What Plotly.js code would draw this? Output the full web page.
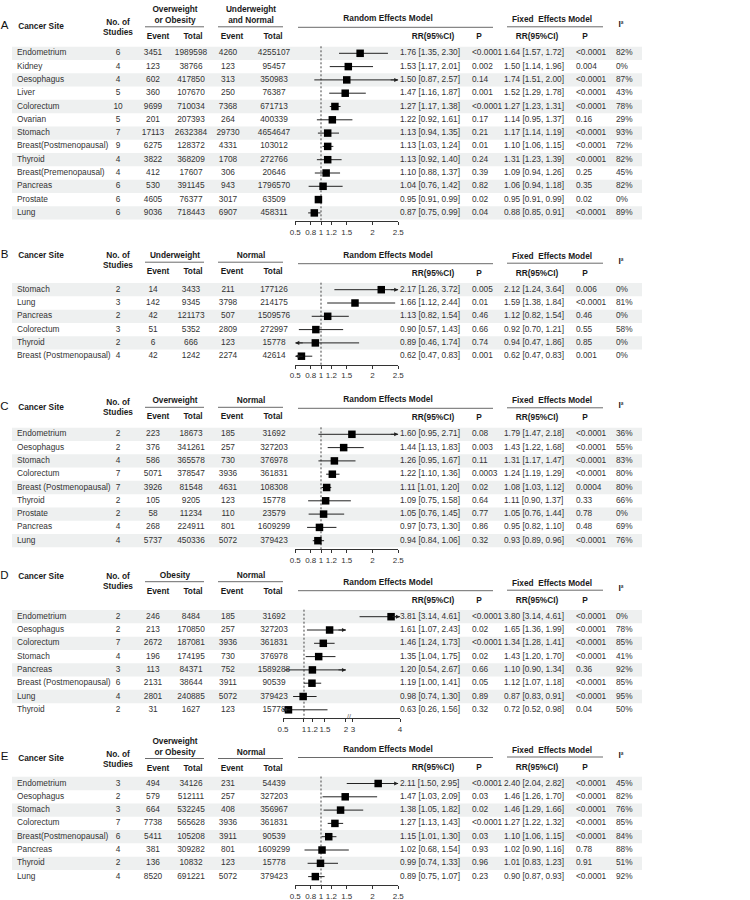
<!DOCTYPE html>
<html>
<head>
<meta charset="utf-8">
<script src="https://cdn.plot.ly/plotly-3.0.1.min.js"></script>
<style>
  body { margin: 0; background: #fff; }
  #plot { width: 750px; height: 900px; }
</style>
</head>
<body>
<div id="plot"></div>
<script>
// Panel A: overweight or obesity vs underweight and normal
const sitesA = ['Endometrium', 'Kidney', 'Oesophagus', 'Liver', 'Colorectum', 'Ovarian', 'Stomach',
  'Breast(Postmenopausal)', 'Thyroid', 'Breast(Premenopausal)', 'Pancreas', 'Prostate', 'Lung'];
const studiesA = [6, 4, 4, 5, 10, 5, 7, 9, 4, 4, 6, 6, 6];
const eventA1 = [3451, 123, 602, 360, 9699, 201, 17113, 6275, 3822, 412, 530, 4605, 9036];
const totalA1 = [1989598, 38766, 417850, 107670, 710034, 207393, 2632384, 128372, 368209, 17607, 391145, 76377, 718443];
const eventA2 = [4260, 123, 313, 250, 7368, 264, 29730, 4331, 1708, 306, 943, 3017, 6907];
const totalA2 = [4255107, 95457, 350983, 76387, 671713, 400339, 4654647, 103012, 272766, 20646, 1796570, 63509, 458311];
const rrA = [1.76, 1.53, 1.50, 1.47, 1.27, 1.22, 1.13, 1.13, 1.13, 1.10, 1.04, 0.95, 0.87];
const loA = [1.35, 1.17, 0.87, 1.16, 1.17, 0.92, 0.94, 1.03, 0.92, 0.88, 0.76, 0.91, 0.75];
const hiA = [2.30, 2.01, 2.57, 1.87, 1.38, 1.61, 1.35, 1.24, 1.40, 1.37, 1.42, 0.99, 0.99];
const pRandomA = ['<0.0001', '0.002', '0.14', '0.001', '<0.0001', '0.17', '0.21', '0.01', '0.24', '0.39', '0.82', '0.02', '0.04'];
const fixA = [1.64, 1.50, 1.74, 1.52, 1.27, 1.14, 1.17, 1.10, 1.31, 1.09, 1.06, 0.95, 0.88];
const fixLoA = [1.57, 1.14, 1.51, 1.29, 1.23, 0.95, 1.14, 1.06, 1.23, 0.94, 0.94, 0.91, 0.85];
const fixHiA = [1.72, 1.96, 2.00, 1.78, 1.31, 1.37, 1.19, 1.15, 1.39, 1.26, 1.18, 0.99, 0.91];
const pFixedA = ['<0.0001', '0.004', '<0.0001', '<0.0001', '<0.0001', '0.16', '<0.0001', '<0.0001', '<0.0001', '0.25', '0.35', '0.02', '<0.0001'];
const i2A = [82, 0, 87, 43, 78, 29, 93, 72, 82, 45, 82, 0, 89];

// Panel B: underweight vs normal
const sitesB = ['Stomach', 'Lung', 'Pancreas', 'Colorectum', 'Thyroid', 'Breast (Postmenopausal)'];
const studiesB = [2, 3, 2, 3, 2, 4];
const eventB1 = [14, 142, 42, 51, 6, 42];
const totalB1 = [3433, 9345, 121173, 5352, 666, 1242];
const eventB2 = [211, 3798, 507, 2809, 123, 2274];
const totalB2 = [177126, 214175, 1509576, 272997, 15778, 42614];
const rrB = [2.17, 1.66, 1.13, 0.90, 0.89, 0.62];
const loB = [1.26, 1.12, 0.82, 0.57, 0.46, 0.47];
const hiB = [3.72, 2.44, 1.54, 1.43, 1.74, 0.83];
const pRandomB = ['0.005', '0.01', '0.46', '0.66', '0.74', '0.001'];
const fixB = [2.12, 1.59, 1.12, 0.92, 0.94, 0.62];
const fixLoB = [1.24, 1.38, 0.82, 0.70, 0.47, 0.47];
const fixHiB = [3.64, 1.84, 1.54, 1.21, 1.86, 0.83];
const pFixedB = ['0.006', '<0.0001', '0.46', '0.55', '0.85', '0.001'];
const i2B = [0, 81, 0, 58, 0, 0];

// Panel C: overweight vs normal
const sitesC = ['Endometrium', 'Oesophagus', 'Stomach', 'Colorectum', 'Breast (Postmenopausal)', 'Thyroid', 'Prostate', 'Pancreas', 'Lung'];
const studiesC = [2, 2, 4, 7, 7, 2, 2, 4, 4];
const eventC1 = [223, 376, 586, 5071, 3926, 105, 58, 268, 5737];
const totalC1 = [18673, 341261, 365578, 378547, 81548, 9205, 11234, 224911, 450336];
const eventC2 = [185, 257, 730, 3936, 4631, 123, 110, 801, 5072];
const totalC2 = [31692, 327203, 376978, 361831, 108308, 15778, 23579, 1609299, 379423];
const rrC = [1.60, 1.44, 1.26, 1.22, 1.11, 1.09, 1.05, 0.97, 0.94];
const loC = [0.95, 1.13, 0.95, 1.10, 1.01, 0.75, 0.76, 0.73, 0.84];
const hiC = [2.71, 1.83, 1.67, 1.36, 1.20, 1.58, 1.45, 1.30, 1.06];
const pRandomC = ['0.08', '0.003', '0.11', '0.0003', '0.02', '0.64', '0.77', '0.86', '0.32'];
const fixC = [1.79, 1.43, 1.31, 1.24, 1.08, 1.11, 1.05, 0.95, 0.93];
const fixLoC = [1.47, 1.22, 1.17, 1.19, 1.03, 0.90, 0.76, 0.82, 0.89];
const fixHiC = [2.18, 1.68, 1.47, 1.29, 1.12, 1.37, 1.44, 1.10, 0.96];
const pFixedC = ['<0.0001', '<0.0001', '<0.0001', '<0.0001', '0.0004', '0.33', '0.78', '0.48', '<0.0001'];
const i2C = [36, 55, 83, 80, 80, 66, 0, 69, 76];

// Panel D: obesity vs normal
const sitesD = ['Endometrium', 'Oesophagus', 'Colorectum', 'Stomach', 'Pancreas', 'Breast (Postmenopausal)', 'Lung', 'Thyroid'];
const studiesD = [2, 2, 7, 4, 3, 6, 4, 2];
const eventD1 = [246, 213, 2672, 196, 113, 2131, 2801, 31];
const totalD1 = [8484, 170850, 187081, 174195, 84371, 38644, 240885, 1627];
const eventD2 = [185, 257, 3936, 730, 752, 3911, 5072, 123];
const totalD2 = [31692, 327203, 361831, 376978, 1589288, 90539, 379423, 15778];
const rrD = [3.81, 1.61, 1.46, 1.35, 1.20, 1.19, 0.98, 0.63];
const loD = [3.14, 1.07, 1.24, 1.04, 0.54, 1.00, 0.74, 0.26];
const hiD = [4.61, 2.43, 1.73, 1.75, 2.67, 1.41, 1.30, 1.56];
const pRandomD = ['<0.0001', '0.02', '<0.0001', '0.02', '0.66', '0.05', '0.89', '0.32'];
const fixD = [3.80, 1.65, 1.34, 1.43, 1.10, 1.12, 0.87, 0.72];
const fixLoD = [3.14, 1.36, 1.28, 1.20, 0.90, 1.07, 0.83, 0.52];
const fixHiD = [4.61, 1.99, 1.41, 1.70, 1.34, 1.18, 0.91, 0.98];
const pFixedD = ['<0.0001', '<0.0001', '<0.0001', '<0.0001', '0.36', '<0.0001', '<0.0001', '0.04'];
const i2D = [0, 78, 85, 41, 92, 85, 95, 50];

// Panel E: overweight or obesity vs normal
const sitesE = ['Endometrium', 'Oesophagus', 'Stomach', 'Colorectum', 'Breast(Postmenopausal)', 'Pancreas', 'Thyroid', 'Lung'];
const studiesE = [3, 2, 3, 7, 6, 4, 2, 4];
const eventE1 = [494, 579, 664, 7738, 5411, 381, 136, 8520];
const totalE1 = [34126, 512111, 532245, 565628, 105208, 309282, 10832, 691221];
const eventE2 = [231, 257, 408, 3936, 3911, 801, 123, 5072];
const totalE2 = [54439, 327203, 356967, 361831, 90539, 1609299, 15778, 379423];
const rrE = [2.11, 1.47, 1.38, 1.27, 1.15, 1.02, 0.99, 0.89];
const loE = [1.50, 1.03, 1.05, 1.13, 1.01, 0.68, 0.74, 0.75];
const hiE = [2.95, 2.09, 1.82, 1.43, 1.30, 1.54, 1.33, 1.07];
const pRandomE = ['<0.0001', '0.03', '0.02', '<0.0001', '0.03', '0.93', '0.96', '0.23'];
const fixE = [2.40, 1.46, 1.46, 1.27, 1.10, 1.02, 1.01, 0.90];
const fixLoE = [2.04, 1.26, 1.29, 1.22, 1.06, 0.90, 0.83, 0.87];
const fixHiE = [2.82, 1.70, 1.66, 1.32, 1.15, 1.16, 1.23, 0.93];
const pFixedE = ['<0.0001', '<0.0001', '<0.0001', '<0.0001', '<0.0001', '0.78', '0.91', '<0.0001'];
const i2E = [45, 82, 76, 85, 84, 88, 51, 92];

const FONT = '"Liberation Sans", Arial, Helvetica, sans-serif';
const ROW_H = 13.3;

// x scales for the forest columns (D has a broken axis between 2 and 3)
const STD = { px: [295.25, 398.25], min: 0.5, max: 2.5, gap: null,
  tr: v => v, ticks: [0.5, 0.8, 1, 1.2, 1.5, 2, 2.5] };
const BRK = { px: [283, 400], min: 0.5, max: 4, gap: [2, 3],
  tr: v => v <= 2 ? v : 2.167 + (v - 3) * 1.12, ticks: [0.5, 1, 1.2, 1.5, 2, 3, 4] };

const panels = [
  { letter: 'A', groups: [['Overweight', 'or Obesity'], ['Underweight', 'and Normal']],
    sites: sitesA, studies: studiesA, ev1: eventA1, tot1: totalA1, ev2: eventA2, tot2: totalA2,
    rr: rrA, lo: loA, hi: hiA, pR: pRandomA, fx: fixA, fxLo: fixLoA, fxHi: fixHiA, pF: pFixedA, i2: i2A,
    r0: 53.3, uline: -26.5, site: -26.5, noOf: -30, sc: STD },
  { letter: 'B', groups: [['Underweight'], ['Normal']],
    sites: sitesB, studies: studiesB, ev1: eventB1, tot1: totalB1, ev2: eventB2, tot2: totalB2,
    rr: rrB, lo: loB, hi: hiB, pR: pRandomB, fx: fixB, fxLo: fixLoB, fxHi: fixHiB, pF: pFixedB, i2: i2B,
    r0: 289.7, uline: -27.5, site: -33.5, noOf: -34, sc: STD },
  { letter: 'C', groups: [['Overweight'], ['Normal']],
    sites: sitesC, studies: studiesC, ev1: eventC1, tot1: totalC1, ev2: eventC2, tot2: totalC2,
    rr: rrC, lo: loC, hi: hiC, pR: pRandomC, fx: fixC, fxLo: fixLoC, fxHi: fixHiC, pF: pFixedC, i2: i2C,
    r0: 434.3, uline: -27, site: -26, noOf: -31, sc: STD },
  { letter: 'D', groups: [['Obesity'], ['Normal']],
    sites: sitesD, studies: studiesD, ev1: eventD1, tot1: totalD1, ev2: eventD2, tot2: totalD2,
    rr: rrD, lo: loD, hi: hiD, pR: pRandomD, fx: fixD, fxLo: fixLoD, fxHi: fixHiD, pF: pFixedD, i2: i2D,
    r0: 616.7, uline: -35, site: -40, noOf: -40, sc: BRK },
  { letter: 'E', groups: [['Overweight', 'or Obesity'], ['Normal']],
    sites: sitesE, studies: studiesE, ev1: eventE1, tot1: totalE1, ev2: eventE2, tot2: totalE2,
    rr: rrE, lo: loE, hi: hiE, pR: pRandomE, fx: fixE, fxLo: fixLoE, fxHi: fixHiE, pF: pFixedE, i2: i2E,
    r0: 783.5, uline: -25, site: -25, noOf: -29, sc: STD }
];

function fmt(v) { return v.toFixed(2); }
function ciText(r, l, h) { return fmt(r) + ' [' + fmt(l) + ', ' + fmt(h) + ']'; }

function clampT(sc, v) {
  if (v < sc.min) return { t: sc.tr(sc.min), cut: true };
  if (v > sc.max) return { t: sc.tr(sc.max), cut: true };
  if (sc.gap && v > sc.gap[0] && v < sc.gap[1]) return { t: sc.tr(sc.gap[0]), cut: true };
  return { t: sc.tr(v), cut: false };
}

const items = [];   // text items
function put(kind, anchor, x, y, s) { items.push({ kind, anchor, x, y, s: String(s) }); }

const traces = [];
const shapes = [];
const annotations = [];
const layout = {
  width: 750, height: 900,
  margin: { l: 0, r: 0, t: 0, b: 0 },
  paper_bgcolor: '#fff', plot_bgcolor: 'rgba(0,0,0,0)',
  showlegend: false,
  font: { family: FONT, size: 8.3, color: '#333' },
  xaxis: { domain: [0, 1], range: [0, 750], visible: false, fixedrange: true },
  yaxis: { domain: [0, 1], range: [900, 0], visible: false, fixedrange: true }
};

function hline(x0, x1, y) {
  shapes.push({ type: 'line', xref: 'x', yref: 'y', x0: x0, x1: x1, y0: y, y1: y,
    line: { color: '#6a6a6a', width: 1 } });
}

panels.forEach((p, k) => {
  const n = p.sites.length;
  const rows = p.sites.map((s, i) => p.r0 + i * ROW_H);
  const axisY = rows[n - 1] + 8.5;
  const xa = 'x' + (k + 2);
  const sc = p.sc;

  // header, left part
  put('letter', 'c', 4.5, p.r0 + p.site - 1, p.letter);
  put('head', 'c', 41, p.r0 + p.site, 'Cancer Site');
  put('head', 'c', 118, p.r0 + p.noOf, 'No. of');
  put('head', 'c', 118, p.r0 + p.noOf + 10, 'Studies');
  const gx = [175, 251];
  p.groups.forEach((lines, g) => {
    lines.forEach((t, j) => {
      put('head', 'c', gx[g], p.r0 + p.uline - 6 - (lines.length - 1 - j) * 11, t);
    });
  });
  hline(145, 204, p.r0 + p.uline);
  hline(218, 283, p.r0 + p.uline);
  const evY = p.r0 + p.uline + 10;
  put('head', 'c', 158, evY, 'Event');
  put('head', 'c', 193, evY, 'Total');
  put('head', 'c', 232, evY, 'Event');
  put('head', 'c', 273, evY, 'Total');

  // header, right part
  put('head', 'c', 388, p.r0 - 34, 'Random Effects Model');
  hline(298, 493, p.r0 - 26);
  put('head', 'c', 433, p.r0 - 16, 'RR(95%CI)');
  put('head', 'c', 479, p.r0 - 16, 'P');
  put('head', 'c', 552, p.r0 - 33, 'Fixed  Effects Model');
  hline(507, 603, p.r0 - 26.5);
  put('head', 'c', 537, p.r0 - 16, 'RR(95%CI)');
  put('head', 'c', 585, p.r0 - 16, 'P');
  put('head', 'c', 621, p.r0 - 28, 'I²');

  // table body
  rows.forEach((y, i) => {
    if (i % 2 === 0) {
      shapes.push({ type: 'rect', xref: 'x', yref: 'y', x0: 12, x1: 642,
        y0: y - ROW_H / 2, y1: y + ROW_H / 2, fillcolor: '#eef0f0', line: { width: 0 }, layer: 'below' });
    }
    put('body', 'l', 17, y, p.sites[i]);
    put('body', 'c', 118, y, p.studies[i]);
    put('body', 'c', 153, y, p.ev1[i]);
    put('body', 'c', 191, y, p.tot1[i]);
    put('body', 'c', 228, y, p.ev2[i]);
    put('body', 'c', 274, y, p.tot2[i]);
    put('body', 'l', 400, y, ciText(p.rr[i], p.lo[i], p.hi[i]));
    put('body', 'l', 472, y, p.pR[i]);
    put('body', 'l', 504, y, ciText(p.fx[i], p.fxLo[i], p.fxHi[i]));
    put('body', 'l', 576, y, p.pF[i]);
    put('body', 'l', 616, y, p.i2[i] + '%');
  });

  // forest plot: CI lines, arrows for cut intervals, boxes
  const lx = [], ly = [];
  rows.forEach((y, i) => {
    const a = clampT(sc, p.lo[i]);
    const b = clampT(sc, p.hi[i]);
    lx.push(a.t, b.t, null);
    ly.push(y, y, null);
    [[a, 9], [b, -9]].forEach(([c, off]) => {
      if (!c.cut) return;
      annotations.push({ xref: xa, yref: 'y', x: c.t, y: y, ax: off, ay: 0, text: '',
        showarrow: true, arrowhead: 2, arrowsize: 0.9, arrowwidth: 0.9, arrowcolor: '#222', standoff: 0 });
    });
  });
  traces.push({ type: 'scatter', mode: 'lines', x: lx, y: ly, xaxis: xa, yaxis: 'y',
    line: { color: '#222', width: 1 }, hoverinfo: 'skip', connectgaps: false });
  traces.push({ type: 'scatter', mode: 'markers', x: p.rr.map(sc.tr), y: rows, xaxis: xa, yaxis: 'y',
    marker: { symbol: 'square', size: 7.5, color: '#000' }, cliponaxis: false, hoverinfo: 'skip' });

  // reference line at RR = 1
  shapes.push({ type: 'line', xref: xa, yref: 'y', x0: sc.tr(1), x1: sc.tr(1),
    y0: p.r0 - 7, y1: axisY, line: { color: '#444', width: 1, dash: '2px,2px' }, layer: 'below' });

  layout['xaxis' + (k + 2)] = {
    domain: [sc.px[0] / 750, sc.px[1] / 750],
    range: [sc.tr(sc.min), sc.tr(sc.max)],
    anchor: 'free', position: 1 - axisY / 900,
    showline: true, linecolor: '#333', linewidth: 1,
    ticks: 'outside', ticklen: 3, tickwidth: 1, tickcolor: '#333',
    tickvals: sc.ticks.map(sc.tr), ticktext: sc.ticks.map(String),
    tickangle: 0, tickfont: { family: FONT, size: 8, color: '#333' },
    showgrid: false, zeroline: false, fixedrange: true
  };

  if (sc.gap) {
    annotations.push({ xref: xa, yref: 'y', x: (sc.tr(sc.gap[0]) + sc.tr(sc.gap[1])) / 2, y: axisY - 2,
      text: '//', showarrow: false, font: { family: FONT, size: 7, color: '#555' } });
  }
});

// group text items into a few text traces
const styles = {
  body: { size: 8.3, color: '#333', weight: 'normal' },
  head: { size: 8.3, color: '#1a1a1a', weight: 'bold' },
  letter: { size: 11.5, color: '#111', weight: 'normal' }
};
Object.keys(styles).forEach(kind => {
  ['l', 'c'].forEach(anchor => {
    const sel = items.filter(d => d.kind === kind && d.anchor === anchor);
    if (!sel.length) return;
    traces.push({
      type: 'scatter', mode: 'text', xaxis: 'x', yaxis: 'y',
      x: sel.map(d => d.x), y: sel.map(d => d.y), text: sel.map(d => d.s),
      textposition: anchor === 'l' ? 'middle right' : 'middle center',
      textfont: Object.assign({ family: FONT }, styles[kind]),
      cliponaxis: false, hoverinfo: 'skip'
    });
  });
});

layout.shapes = shapes;
layout.annotations = annotations;

Plotly.newPlot('plot', traces, layout, { staticPlot: true, displayModeBar: false });
</script>
</body>
</html>
